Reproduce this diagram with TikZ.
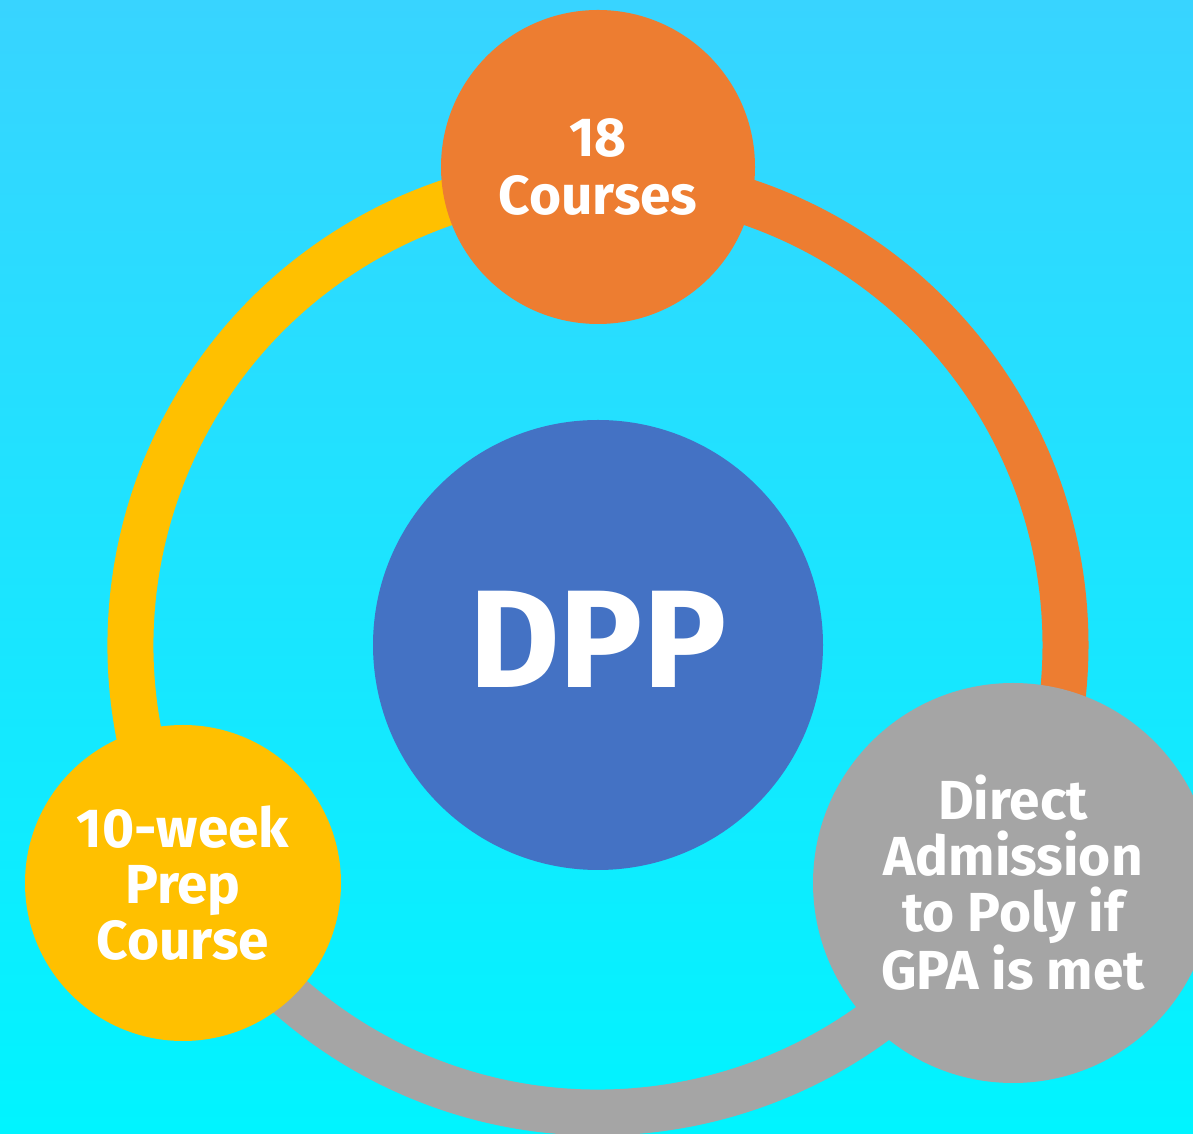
\documentclass[tikz,border=0pt]{standalone}
\usepackage{fontspec}
\setmainfont{Fira Sans}
\definecolor{bgtop}{HTML}{38D4FF}
\definecolor{bgbot}{HTML}{00F4FF}
\definecolor{orangeC}{HTML}{ED7D31}
\definecolor{yellowC}{HTML}{FFC000}
\definecolor{grayC}{HTML}{A5A5A5}
\definecolor{blueC}{HTML}{4472C4}
\begin{document}
\begin{tikzpicture}[x=1pt,y=1pt,
  ring/.style={line width=46pt},
  bubble/.style={circle, inner sep=0pt, text=white, align=center,
    font=\bfseries\fontsize{55}{56}\selectfont}]
\useasboundingbox (0,0) rectangle (1193,1134);
\clip (0,0) rectangle (1193,1134);
\shade[top color=bgtop, bottom color=bgbot] (0,0) rectangle (1193,1134);
\coordinate (c) at (598,489);
% ring segments
\draw[ring, orangeC] (c) ++(90:467.5) arc[start angle=90, end angle=-30, radius=467.5];
\draw[ring, grayC] (c) ++(-30:467.5) arc[start angle=-30, end angle=-150, radius=467.5];
\draw[ring, yellowC] (c) ++(210:467.5) arc[start angle=210, end angle=90, radius=467.5];
% center
\node[circle, fill=blueC, minimum size=450pt, inner sep=0pt] (dpp) at (c) {};
\node[text=white, font=\bfseries\fontsize{139}{140}\selectfont, inner sep=0pt] (dpptext) at ([yshift=6pt]dpp.center) {DPP};
% outer bubbles
\node[bubble, fill=orangeC, minimum size=314pt, font=\bfseries\fontsize{55}{58}\selectfont] (courses) at (598,967) {18\\Courses};
\node[bubble, fill=yellowC, minimum size=316pt] (prep) at (183,251) {10-week\\Prep\\Course};
\node[bubble, fill=grayC, minimum size=400pt] (adm) at (1013,251) {Direct\\Admission\\to Poly if\\GPA is met};
\end{tikzpicture}
\end{document}
